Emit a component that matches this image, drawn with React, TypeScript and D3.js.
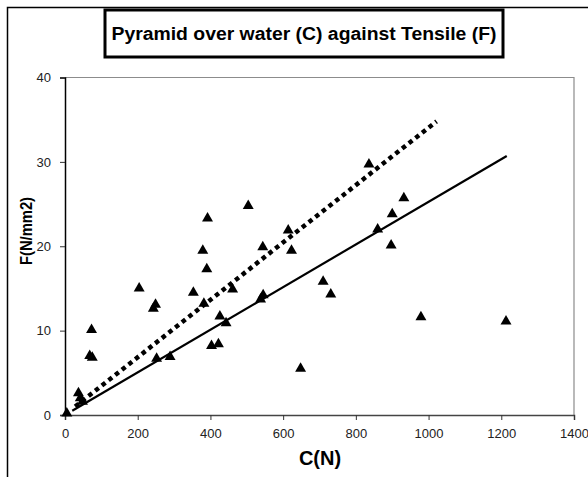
import React from 'react';
import * as d3 from 'd3';

// pyramid over water (C) vs tensile (F) readings
const cValues = [5, 37, 42, 48, 73, 68, 75, 204, 243, 249, 252, 289, 353, 379, 390, 392, 382, 403, 422, 426, 443, 461, 504, 538, 545, 544, 614, 623, 648, 710, 731, 836, 860, 897, 900, 932, 979, 1213];
const fValues = [0.2, 2.6, 2.0, 1.6, 10.1, 7.0, 6.8, 15.0, 12.6, 13.1, 6.7, 6.9, 14.5, 19.5, 17.3, 23.3, 13.2, 8.2, 8.4, 11.7, 10.9, 14.9, 24.8, 13.7, 14.2, 19.9, 21.9, 19.5, 5.5, 15.8, 14.3, 29.7, 22.0, 20.1, 23.8, 25.7, 11.6, 11.1];

// trend lines (end points)
const solidLine = [[20, 0.5], [1215, 30.7]];
const dottedLine = [[28, 1.0], [1022, 34.8]];

const xTicks = [0, 200, 400, 600, 800, 1000, 1200, 1400];
const yTicks = [0, 10, 20, 30, 40];

const title = 'Pyramid over water (C) against Tensile (F)';

const App = () => {
  const svgRef = React.useRef<SVGSVGElement>(null);
  const width = 588;
  const height = 477;
  const left = 65, right = 574, top = 77.5, bottom = 415;
  const font = 'Liberation Sans, Arial, sans-serif';

  React.useEffect(() => {
    const svg = d3.select(svgRef.current);
    svg.selectAll('*').remove();

    const x = d3.scaleLinear().domain([0, 1400]).range([left, right]);
    const y = d3.scaleLinear().domain([0, 40]).range([bottom, top]);

    svg.append('rect').attr('width', width).attr('height', height).attr('fill', '#fff');

    // outer chart border
    svg.append('rect')
      .attr('x', 7.5).attr('y', 7.5)
      .attr('width', 620).attr('height', 520)
      .attr('fill', 'none').attr('stroke', '#000').attr('stroke-width', 1.5);

    // plot area border (top/right in grey)
    svg.append('path')
      .attr('d', `M${left},${top}H${right}V${bottom}`)
      .attr('fill', 'none').attr('stroke', '#8c8c8c').attr('stroke-width', 1.2);

    // axes
    const yAxis = d3.axisLeft(y).tickValues(yTicks).tickSize(5).tickPadding(9).tickFormat(d3.format('d'));
    const gy = svg.append('g').attr('transform', `translate(${left},0)`).call(yAxis);
    gy.select('.domain').attr('stroke', '#000').attr('stroke-width', 1.5);

    const xAxis = d3.axisBottom(x).tickValues(xTicks).tickSize(5).tickPadding(9).tickFormat(d3.format('d'));
    const gx = svg.append('g').attr('transform', `translate(0,${bottom})`).call(xAxis);
    gx.select('.domain').attr('stroke', '#444').attr('stroke-width', 1.5);

    [gx, gy].forEach((g) => {
      g.selectAll('line').attr('stroke', '#333');
      g.selectAll('text').attr('font-family', font).attr('font-size', 13).attr('fill', '#222');
    });

    const line = d3.line<number[]>().x((d) => x(d[0])).y((d) => y(d[1]));

    svg.append('path')
      .attr('d', line(dottedLine))
      .attr('fill', 'none').attr('stroke', '#000')
      .attr('stroke-width', 4.5).attr('stroke-dasharray', '4.5 4');

    svg.append('path')
      .attr('d', line(solidLine))
      .attr('fill', 'none').attr('stroke', '#000').attr('stroke-width', 2.2);

    const tri = d3.symbol().type(d3.symbolTriangle).size(52);
    svg.append('g')
      .selectAll('path')
      .data(cValues.map((c, i) => [c, fValues[i]]))
      .enter()
      .append('path')
      .attr('d', tri)
      .attr('transform', (d) => `translate(${x(d[0])},${y(d[1])})`)
      .attr('fill', '#000');

    // title box
    svg.append('rect')
      .attr('x', 105).attr('y', 10)
      .attr('width', 398).attr('height', 47)
      .attr('fill', '#fff').attr('stroke', '#000').attr('stroke-width', 3);
    svg.append('text')
      .attr('x', 304).attr('y', 39.5)
      .attr('text-anchor', 'middle')
      .attr('font-family', font).attr('font-weight', 'bold').attr('font-size', 18)
      .attr('textLength', 385).attr('lengthAdjust', 'spacingAndGlyphs')
      .text(title);

    svg.append('text')
      .attr('x', 320).attr('y', 465)
      .attr('text-anchor', 'middle')
      .attr('font-family', font).attr('font-weight', 'bold').attr('font-size', 20)
      .text('C(N)');

    svg.append('text')
      .attr('transform', 'translate(32,231) rotate(-90)')
      .attr('text-anchor', 'middle')
      .attr('font-family', font).attr('font-weight', 'bold').attr('font-size', 16)
      .attr('textLength', 68).attr('lengthAdjust', 'spacingAndGlyphs')
      .text('F(N/mm2)');
  }, []);

  return (
    <svg
      ref={svgRef}
      width={width}
      height={height}
      style={{ position: 'absolute', left: 0, top: 0 }}
    />
  );
};

export default App;
